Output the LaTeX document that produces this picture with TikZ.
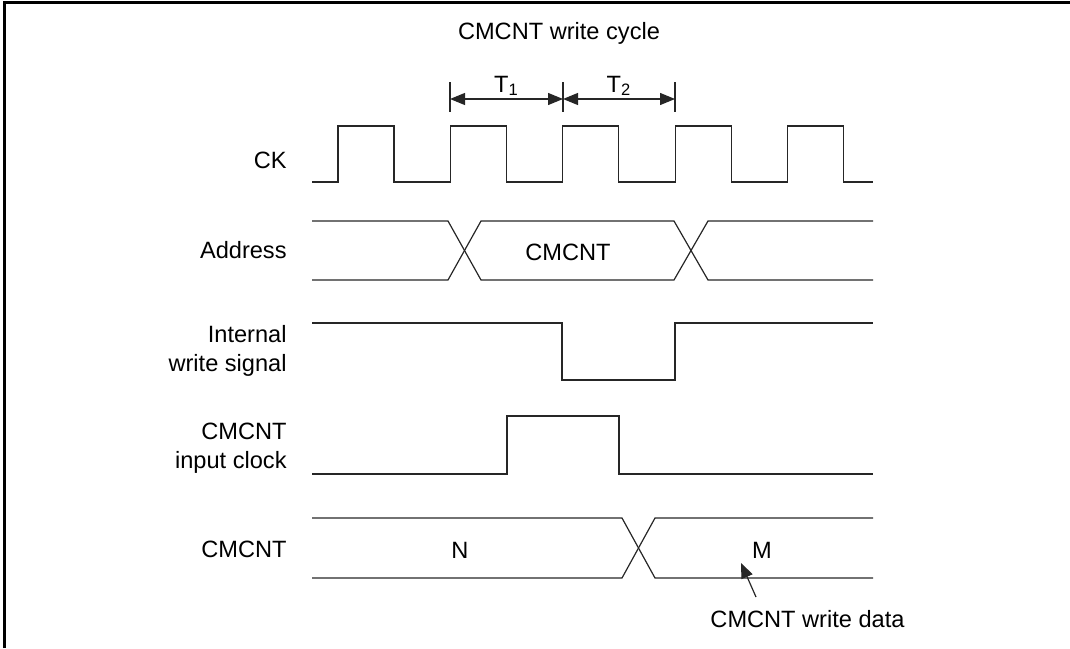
\documentclass[tikz,border=0pt]{standalone}
\usepackage{fontspec}
\setmainfont{Liberation Sans}
\usetikzlibrary{arrows.meta}

\begin{document}
\begin{tikzpicture}[x=0.5pt, y=-0.5pt, sig/.style={line width=0.6pt, black!85}, lbl/.style={align=right, anchor=east, inner sep=0pt, font=\fontsize{11.8}{14.5}\selectfont}, txt/.style={inner sep=0pt, font=\fontsize{11.8}{14.5}\selectfont}, tip/.style={Triangle[length=7.5pt,width=6pt]}, >={Triangle[length=7.5pt,width=6pt]}]
  \useasboundingbox (0,0) rectangle (1070,648);
  \draw[line width=1.3pt] (4.5,648) -- (4.5,2.5) -- (1070,2.5);

  \node[txt] (title) at (559,33) {CMCNT write cycle};
  \foreach \x/\n in {450/a,563/b,675/c} {
    \draw[sig] (\x,82) -- (\x,112);
    \coordinate (t\n) at (\x,99);
  }
  \draw[sig,<->] (ta) -- (tb);
  \draw[sig,<->] (tb) -- (tc);
  \node[txt,anchor=base] (tone) at (506.5,92) {T\textsubscript{1}};
  \node[txt,anchor=base] (ttwo) at (619,92) {T\textsubscript{2}};

  \node[lbl] (ck) at (287,160) {CK};
  \node[lbl] (addr) at (287,250) {Address};
  \node[lbl] (wrs) at (287,351) {Internal\\write signal};
  \node[lbl] (inclk) at (287,448) {CMCNT\\input clock};
  \node[lbl] (cnt) at (287,549) {CMCNT};

  % CK
  \draw[sig] (312,182) \foreach \k in {0,...,4} { -- ({338+112.4*\k},182) -- ({338+112.4*\k},126) -- ({394+112.4*\k},126) -- ({394+112.4*\k},182) } -- (873,182);

  % Address
  \draw[sig] (312,221) -- (448,221) -- (481,280) -- (674,280) -- (708,221) -- (873,221);
  \draw[sig] (312,280) -- (448,280) -- (481,221) -- (674,221) -- (708,280) -- (873,280);
  \node[txt] (avalue) at (568,252) {CMCNT};

  % write signal, input clock
  \draw[sig] (312,323) -- (562,323) -- (562,380) -- (675,380) -- (675,323) -- (873,323);
  \draw[sig] (312,474) -- (507,474) -- (507,416) -- (619,416) -- (619,474) -- (873,474);

  % CMCNT
  \draw[sig] (312,518) -- (622,518) -- (655,578) -- (873,578);
  \draw[sig] (312,578) -- (622,578) -- (655,518) -- (873,518);
  \node[txt] (nval) at (460,550) {N};
  \node[txt] (mval) at (762,550) {M};

  \node[txt] (wdata) at (807.5,619) {CMCNT write data};
  \coordinate (mtail) at (756,597);
  \coordinate (mtip) at (741,563);
  \draw[sig,->] (mtail) -- (mtip);
\end{tikzpicture}
\end{document}
